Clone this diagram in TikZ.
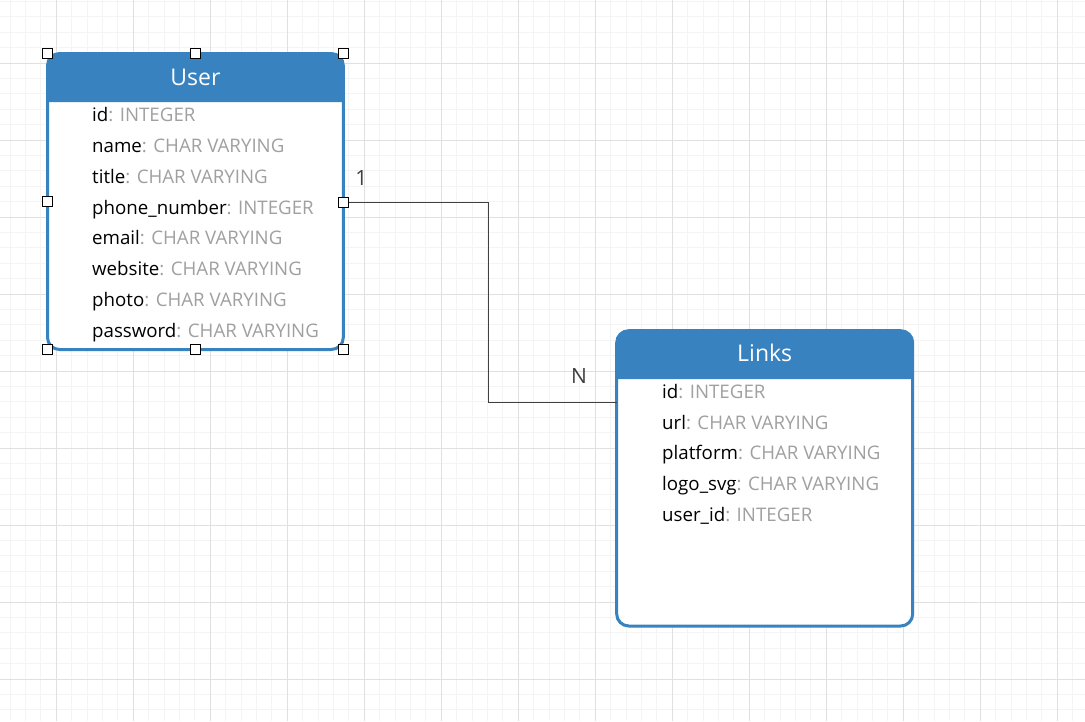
\documentclass[tikz,border=0pt]{standalone}
\usepackage{fontspec}
\setmainfont{Open Sans}
\definecolor{erblue}{HTML}{3882C0}
\definecolor{gridminor}{HTML}{F4F4F4}
\definecolor{gridmajor}{HTML}{E0E0E0}
\definecolor{typegray}{HTML}{A0A0A0}
\definecolor{conngray}{HTML}{404040}
\begin{document}
\begin{tikzpicture}[x=1pt,y=-1pt,
  minorgrid/.style={draw=gridminor, line width=1pt},
  majorgrid/.style={draw=gridmajor, line width=1pt},
  tbl/.style={draw=erblue, fill=white, line width=3pt, rounded corners=12pt, inner sep=0pt, outer sep=0pt},
  hdr/.style={fill=erblue},
  ttl/.style={text=white, font=\fontsize{23}{26}\selectfont, inner sep=0pt, anchor=base},
  field/.style={text=black, font=\fontsize{18.7}{22}\selectfont, inner sep=0pt, anchor=base west},
  conn/.style={draw=conngray, line width=1.5pt},
  lbl/.style={text=conngray, font=\fontsize{21}{24}\selectfont, inner sep=0pt},
  handle/.style={draw=black, fill=white, line width=1.5pt, minimum size=10pt, inner sep=0pt, outer sep=0pt}]
\useasboundingbox (0,0) rectangle (1085,721);
\fill[white] (0,0) rectangle (1085,721);
% grid
\foreach \i in {0,...,72} {\draw[minorgrid] ({-20.7+15.4*\i},0) -- ({-20.7+15.4*\i},721);}
\foreach \i in {0,...,48} {\draw[minorgrid] (0,{-14+15.4*\i}) -- (1085,{-14+15.4*\i});}
\foreach \i in {0,...,15} {\draw[majorgrid] ({-20.7+77*\i},0) -- ({-20.7+77*\i},721);}
\foreach \i in {0,...,10} {\draw[majorgrid] (0,{-14+77*\i}) -- (1085,{-14+77*\i});}

% User table
\node[tbl, minimum width=295.8pt, minimum height=296pt] (user) at (195.4,201.5) {};
\fill[hdr] (user.north west) ++(0,48.5) [rounded corners=12pt] -- (user.north west) -- (user.north east) [sharp corners] -- ++(0,48.5) -- cycle;
\node[ttl] (usertitle) at (195.4,85) {User};
\node[field] (u1) at (92,121.7) {id\textcolor{typegray}{: INTEGER}};
\node[field] (u2) at (92,152.5) {name\textcolor{typegray}{: CHAR VARYING}};
\node[field] (u3) at (92,183.3) {title\textcolor{typegray}{: CHAR VARYING}};
\node[field] (u4) at (92,214.1) {phone\_number\textcolor{typegray}{: INTEGER}};
\node[field] (u5) at (92,244.9) {email\textcolor{typegray}{: CHAR VARYING}};
\node[field] (u6) at (92,275.7) {website\textcolor{typegray}{: CHAR VARYING}};
\node[field] (u7) at (92,306.5) {photo\textcolor{typegray}{: CHAR VARYING}};
\node[field] (u8) at (92,337.3) {password\textcolor{typegray}{: CHAR VARYING}};

% Links table
\node[tbl, minimum width=296pt, minimum height=295.3pt] (links) at (764.7,478.35) {};
\fill[hdr] (links.north west) ++(0,48.3) [rounded corners=12pt] -- (links.north west) -- (links.north east) [sharp corners] -- ++(0,48.3) -- cycle;
\node[ttl] (linkstitle) at (764.7,361.7) {Links};
\node[field] (l1) at (662,398.3) {id\textcolor{typegray}{: INTEGER}};
\node[field] (l2) at (662,429.1) {url\textcolor{typegray}{: CHAR VARYING}};
\node[field] (l3) at (662,459.9) {platform\textcolor{typegray}{: CHAR VARYING}};
\node[field] (l4) at (662,490.7) {logo\_svg\textcolor{typegray}{: CHAR VARYING}};
\node[field] (l5) at (662,521.5) {user\_id\textcolor{typegray}{: INTEGER}};

% connector
\draw[conn] (user.east |- 0,202.7) -- (488.3,202.7) -- (488.3,402.7) -- (links.west |- 0,402.7);
\node[lbl] (one) at (361.5,177.5) {1};
\node[lbl] (many) at (579,376) {N};

% selection handles
\node[handle] (h1) at (user.north west) {};
\node[handle] (h2) at (user.north) {};
\node[handle] (h3) at (user.north east) {};
\node[handle] (h4) at (user.west) {};
\node[handle] (h5) at (user.east |- 0,202.7) {};
\node[handle] (h6) at (user.south west) {};
\node[handle] (h7) at (user.south) {};
\node[handle] (h8) at (user.south east) {};
\end{tikzpicture}
\end{document}
